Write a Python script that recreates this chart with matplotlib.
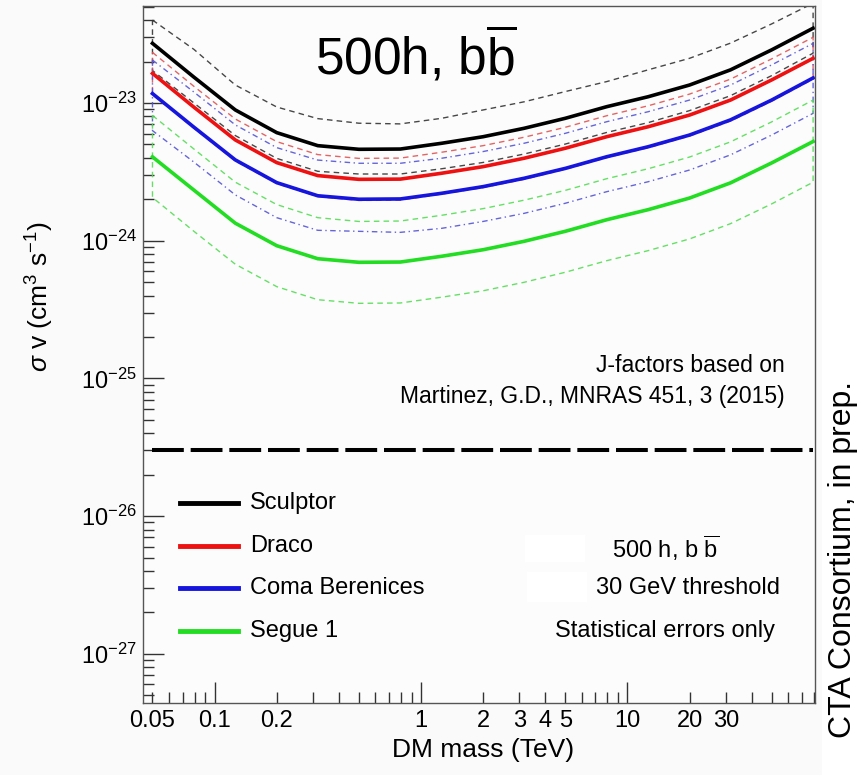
import numpy as np
import matplotlib
matplotlib.use("Agg")
import matplotlib.pyplot as plt
from matplotlib.lines import Line2D
from matplotlib.patches import Rectangle
from matplotlib.ticker import FixedLocator, FuncFormatter, NullFormatter, LogLocator

W, H = 859, 775
FONT = ["Liberation Sans", "DejaVu Sans"]
plt.rcParams["font.family"] = FONT
plt.rcParams["mathtext.fontset"] = "custom"
plt.rcParams["mathtext.rm"] = "Liberation Sans"
plt.rcParams["mathtext.it"] = "Liberation Sans:italic"
plt.rcParams["mathtext.bf"] = "Liberation Sans:bold"

# DM mass grid (TeV)
mass = [0.05, 0.0794, 0.126, 0.2, 0.316, 0.5, 0.794, 1.26, 2.0, 3.16,
        5.0, 7.94, 12.6, 20.0, 31.6, 50.0, 79.4]

# <sigma v> upper limits, in units of 1e-24 cm^3 s^-1
sculptor = [27.1, 15.4, 8.90, 6.09, 4.90, 4.61, 4.63, 5.10, 5.69, 6.55,
            7.74, 9.40, 11.1, 13.5, 17.4, 24.3, 34.9]
sculptor_hi = [40.0, 24.5, 13.5, 9.35, 7.70, 7.13, 7.05, 7.74, 8.90, 10.2,
               12.1, 14.3, 17.4, 21.1, 27.2, 37.5, 53.0]
sculptor_lo = [17.2, 10.0, 5.80, 3.96, 3.19, 3.05, 3.05, 3.33, 3.70, 4.26,
               5.03, 6.11, 7.20, 8.80, 11.3, 15.8, 23.0]

draco = [16.4, 9.32, 5.39, 3.69, 2.97, 2.79, 2.80, 3.09, 3.45, 3.97,
         4.69, 5.69, 6.72, 8.17, 10.5, 14.7, 21.1]
draco_hi = [23.3, 13.2, 7.65, 5.24, 4.22, 3.96, 3.98, 4.39, 4.90, 5.64,
            6.66, 8.08, 9.54, 11.6, 14.9, 20.9, 30.0]
draco_lo = [11.5, 6.56, 3.79, 2.60, 2.09, 1.96, 1.97, 2.18, 2.43, 2.79,
            3.30, 4.01, 4.73, 5.75, 7.39, 10.3, 14.9]

coma = [11.7, 6.67, 3.86, 2.64, 2.12, 2.00, 2.01, 2.21, 2.47, 2.84,
        3.35, 4.07, 4.81, 5.85, 7.54, 10.5, 15.2]
coma_hi = [20.5, 12.0, 6.93, 4.74, 3.85, 3.65, 3.65, 3.97, 4.44, 5.10,
           6.02, 7.31, 8.64, 10.5, 13.5, 18.9, 27.1]
coma_lo = [6.30, 3.72, 2.15, 1.47, 1.19, 1.17, 1.15, 1.23, 1.38, 1.58,
           1.87, 2.27, 2.68, 3.26, 4.20, 5.85, 8.41]

segue = [4.06, 2.33, 1.34, 0.920, 0.740, 0.697, 0.700, 0.771, 0.860, 0.990,
         1.17, 1.42, 1.68, 2.04, 2.63, 3.67, 5.25]
segue_hi = [8.12, 4.63, 2.66, 1.83, 1.47, 1.38, 1.39, 1.53, 1.71, 1.97,
            2.32, 2.82, 3.33, 4.05, 5.22, 7.29, 10.5]
segue_lo = [2.06, 1.17, 0.675, 0.464, 0.373, 0.351, 0.353, 0.389, 0.433, 0.499,
            0.590, 0.716, 0.847, 1.03, 1.33, 1.85, 2.66]

UNIT = 1e-24
thermal = 3.0e-26

names = ["Sculptor", "Draco", "Coma Berenices", "Segue 1"]
colors = ["#000000", "#ee1111", "#1515dd", "#22dd22"]
band_colors = ["#333333", "#e05555", "#5555d5", "#55dd55"]
band_styles = [(0, (4, 3)), (0, (4, 3)), (0, (4, 2.5, 1, 2.5)), (0, (4, 3))]
series = [(sculptor, sculptor_hi, sculptor_lo), (draco, draco_hi, draco_lo),
          (coma, coma_hi, coma_lo), (segue, segue_hi, segue_lo)]

xtick_text = {0.05: "0.05", 0.1: "0.1", 0.2: "0.2", 1: "1", 2: "2", 3: "3",
              4: "4", 5: "5", 10: "10", 20: "20", 30: "30"}


def fx(x):
    return x / W


def fy(y):
    return 1 - y / H


fig = plt.figure(figsize=(W / 100, H / 100), dpi=100)
fig.patch.set_facecolor("#fafafa")
ax = fig.add_axes([fx(142.5), fy(703), fx(815) - fx(142.5), fy(6) - fy(703)])
ax.set_facecolor("#fcfcfc")
ax.set_xscale("log")
ax.set_yscale("log")
ax.set_xlim(0.04473, 81.1)
ax.set_ylim(4.40e-28, 5.06e-23)

m = np.array(mass)
# statistical error bands, drawn as closed dashed contours
for (mid, hi, lo), bc, bs in zip(series, band_colors, band_styles):
    hi = np.array(hi) * UNIT
    lo = np.array(lo) * UNIT
    px = np.concatenate([m, m[::-1], m[:1]])
    py = np.concatenate([hi, lo[::-1], hi[:1]])
    ax.plot(px, py, color=bc, lw=1.0, ls=bs, alpha=0.9)
for (mid, hi, lo), c in zip(series[::-1], colors[::-1]):
    ax.plot(m, np.array(mid) * UNIT, color=c, lw=2.6, solid_joinstyle="miter")

# thermal relic cross section
ax.plot([m[0], m[-1]], [thermal, thermal], color="black", lw=2.9,
        ls=(0, (7.9, 1.7)), dash_capstyle="butt")

for s in ax.spines.values():
    s.set_color("#555555")
    s.set_linewidth(1.0)

ax.xaxis.set_major_locator(FixedLocator([0.1, 1, 10]))
ax.xaxis.set_minor_locator(LogLocator(base=10, subs=np.arange(2, 10)))


def xfmt(v, pos):
    for k, t in xtick_text.items():
        if abs(v - k) / k < 1e-3:
            return t
    return ""


ax.xaxis.set_major_formatter(FuncFormatter(xfmt))
ax.xaxis.set_minor_formatter(FuncFormatter(xfmt))
ax.yaxis.set_major_locator(FixedLocator([1e-27, 1e-26, 1e-25, 1e-24, 1e-23]))
ax.yaxis.set_minor_locator(LogLocator(base=10, subs=np.arange(2, 10)))
ax.yaxis.set_major_formatter(FuncFormatter(
    lambda v, p: r"$10^{%d}$" % round(np.log10(v))))
ax.yaxis.set_minor_formatter(NullFormatter())
ax.tick_params(which="both", direction="in", top=False, right=False,
               color="#333333", width=1.0)
ax.tick_params(which="major", length=15)
ax.tick_params(which="minor", length=8)
ax.tick_params(axis="x", which="both", labelsize=17, pad=5)
ax.tick_params(axis="y", which="both", labelsize=17, pad=4)

# axis titles
fig.text(fx(483), fy(750), "DM mass (TeV)", ha="center", va="center", fontsize=19)
fig.text(fx(40), fy(297), r"$\sigma$ v (cm$^{3}$ s$^{-1}$)", ha="center",
         va="center", rotation=90, fontsize=19)

# legend
for i, (n, c) in enumerate(zip(names, colors)):
    y = 503 + i * 42.7
    fig.add_artist(Line2D([fx(180), fx(238)], [fy(y), fy(y)], color=c, lw=3.5))
    fig.text(fx(250), fy(y), n, ha="left", va="center", fontsize=17)

fig.add_artist(Rectangle((fx(525), fy(562)), fx(60), 27 / H, color="white", lw=0))
fig.add_artist(Rectangle((fx(527), fy(602)), fx(60), 30 / H, color="white", lw=0))
fig.text(fx(612), fy(548), r"500 h, b $\overline{\mathrm{b}}$", ha="left",
         va="center", fontsize=17)
fig.text(fx(596), fy(588), "30 GeV threshold", ha="left", va="center", fontsize=17)
fig.text(fx(555), fy(631), "Statistical errors only", ha="left", va="center",
         fontsize=17)

fig.text(fx(785), fy(365), "J-factors based on", ha="right", va="center",
         fontsize=16.5)
fig.text(fx(785), fy(397), "Martinez, G.D., MNRAS 451, 3 (2015)", ha="right",
         va="center", fontsize=16.5)

fig.text(fx(315), fy(55), r"500h, b$\overline{\mathrm{b}}$", ha="left",
         va="center", fontsize=37)

fig.add_artist(Rectangle((fx(822), 0), 1 - fx(822), 1, color="white", lw=0))
fig.text(fx(843), fy(560), "CTA Consortium, in prep.", ha="center",
         va="center", rotation=90, fontsize=23)

fig.savefig("out.png", dpi=100, facecolor=fig.get_facecolor())
